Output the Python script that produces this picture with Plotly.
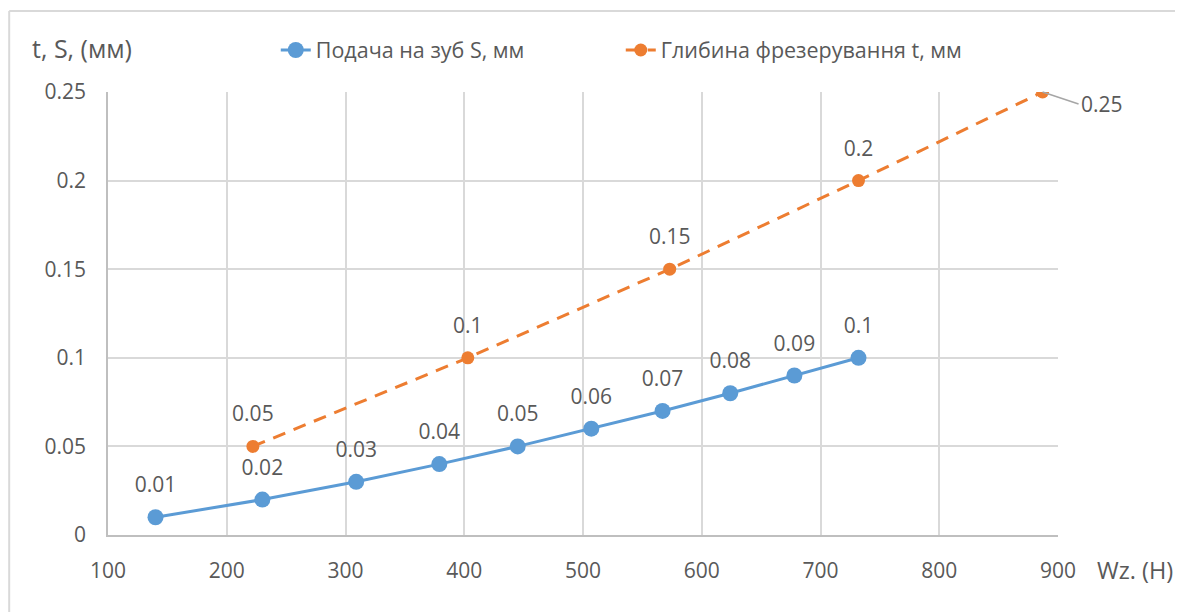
import plotly.graph_objects as go

# Data
feed_x = [140, 230, 309, 379, 445, 507, 567, 624, 678, 732]
feed_y = [0.01, 0.02, 0.03, 0.04, 0.05, 0.06, 0.07, 0.08, 0.09, 0.1]
depth_x = [222, 403, 573, 732, 887]
depth_y = [0.05, 0.1, 0.15, 0.2, 0.25]
feed_name = "Подача на зуб S, мм"
depth_name = "Глибина фрезерування t, мм"
x_ticks = [100, 200, 300, 400, 500, 600, 700, 800, 900]
y_ticks = [0, 0.05, 0.1, 0.15, 0.2, 0.25]
y_title = "t, S, (мм)"
x_title = "Wz. (H)"

FONT = "Open Sans"
TXT = "#595959"
BLUE = "#5B9BD5"
ORANGE = "#ED7D31"
LABEL_FONT = dict(family=FONT, size=21, color=TXT)

fig = go.Figure()
fig.add_trace(go.Scatter(
    x=feed_x, y=feed_y, name=feed_name, mode="lines+markers",
    line=dict(color=BLUE, width=3),
    marker=dict(color=BLUE, size=16),
))
fig.add_trace(go.Scatter(
    x=depth_x, y=depth_y, name=depth_name, mode="lines+markers",
    line=dict(color=ORANGE, width=3, dash="13px,9px"),
    marker=dict(color=ORANGE, size=13),
))
# data labels (invisible larger markers push the text a bit higher)
fig.add_trace(go.Scatter(
    x=feed_x, y=feed_y, mode="markers+text", showlegend=False, hoverinfo="skip",
    marker=dict(size=30, opacity=0),
    text=[f"{v:g}" for v in feed_y], textposition="top center", textfont=LABEL_FONT,
))
fig.add_trace(go.Scatter(
    x=depth_x[:-1], y=depth_y[:-1], mode="markers+text", showlegend=False, hoverinfo="skip",
    marker=dict(size=30, opacity=0),
    text=[f"{v:g}" for v in depth_y[:-1]], textposition="top center", textfont=LABEL_FONT,
))
fig.add_annotation(
    x=depth_x[-1], y=depth_y[-1], text=f"{depth_y[-1]:g}",
    showarrow=True, arrowhead=0, arrowcolor="#A6A6A6", arrowwidth=1.5,
    ax=36, ay=12, xanchor="left", yanchor="middle",
    font=LABEL_FONT,
)
fig.add_annotation(
    xref="paper", yref="paper", x=-0.082, y=1.099, text=y_title,
    showarrow=False, xanchor="left", yanchor="middle",
    font=dict(family=FONT, size=25, color=TXT),
)
fig.add_annotation(
    xref="paper", yref="paper", x=1.039, y=-0.079, text=x_title,
    showarrow=False, xanchor="left", yanchor="middle",
    font=dict(family=FONT, size=23.5, color=TXT),
)
# chart area border (top and left)
fig.add_shape(type="line", xref="paper", yref="paper", x0=-0.104, x1=1.2,
              y0=1.183, y1=1.183, line=dict(color="#D9D9D9", width=2))
fig.add_shape(type="line", xref="paper", yref="paper", x0=-0.104, x1=-0.104,
              y0=-0.2, y1=1.183, line=dict(color="#D9D9D9", width=2))

fig.update_layout(
    width=1175, height=604,
    margin=dict(l=100, r=125, t=84, b=77),
    paper_bgcolor="white", plot_bgcolor="white",
    font=dict(family=FONT, color=TXT),
    showlegend=True,
    legend=dict(orientation="h", x=0.1766, y=1.0948, xanchor="left", yanchor="middle",
                font=dict(family=FONT, size=21.5, color=TXT),
                entrywidth=300, tracegroupgap=0, bgcolor="rgba(0,0,0,0)"),
)
fig.update_xaxes(
    range=[100, 900], tickvals=x_ticks, ticktext=[str(v) for v in x_ticks],
    showgrid=True, gridcolor="#D9D9D9", gridwidth=1.5,
    showline=True, linecolor="#BFBFBF", linewidth=1.5,
    ticks="", tickfont=dict(family=FONT, size=21, color=TXT),
    ticklabelstandoff=16, zeroline=False,
)
fig.update_yaxes(
    range=[0, 0.25], tickvals=y_ticks, ticktext=[f"{v:g}" for v in y_ticks],
    showgrid=True, gridcolor="#D9D9D9", gridwidth=1.5,
    showline=True, linecolor="#BFBFBF", linewidth=1.5,
    ticks="", tickfont=dict(family=FONT, size=21, color=TXT),
    ticklabelstandoff=16, zeroline=False,
)
fig.write_html("out.html")
